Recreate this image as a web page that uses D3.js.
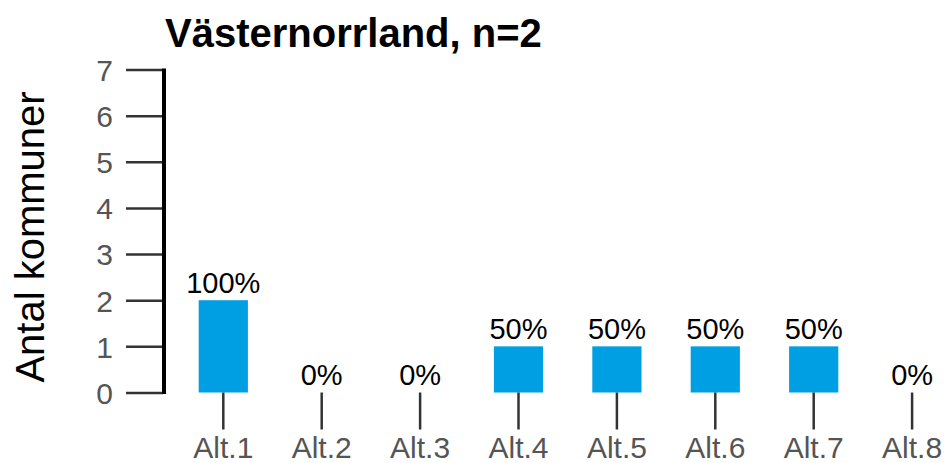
<!DOCTYPE html>
<html><head><meta charset="utf-8">
<script src="https://cdn.jsdelivr.net/npm/d3@7"></script>
<style>body{margin:0;background:#fff}svg{display:block}text{font-family:"Liberation Sans",Arial,sans-serif}</style>
</head><body>
<script>
const categories = ["Alt.1","Alt.2","Alt.3","Alt.4","Alt.5","Alt.6","Alt.7","Alt.8"];
const values = [2,0,0,1,1,1,1,0];
const percentLabels = ["100%","0%","0%","50%","50%","50%","50%","0%"];
const yTicks = [0,1,2,3,4,5,6,7];
const title = "Västernorrland, n=2";
const yTitle = "Antal kommuner";

const W = 947, H = 463;
const svg = d3.select("body").append("svg").attr("width", W).attr("height", H);

const x = d3.scaleBand().domain(categories).range([174.1, 961.3]).paddingInner(0.5).paddingOuter(0.25);
const y = d3.scaleLinear().domain([0, 7]).range([392.5, 69.5]);

// bars
svg.append("g").selectAll("rect").data(values).join("rect")
  .attr("x", (d, i) => x(categories[i]))
  .attr("width", x.bandwidth())
  .attr("y", d => y(d))
  .attr("height", d => y(0) - y(d))
  .attr("fill", "#009FE3");

// bar labels
svg.append("g").selectAll("text").data(values).join("text")
  .attr("x", (d, i) => x(categories[i]) + x.bandwidth() / 2)
  .attr("y", d => y(d) - 7.5)
  .attr("text-anchor", "middle")
  .attr("font-size", 29)
  .attr("fill", "#000")
  .text((d, i) => percentLabels[i]);

// y axis
const yAxis = d3.axisLeft(y).tickValues(yTicks).tickSize(37).tickPadding(13).tickFormat(d3.format("d"));
const gy = svg.append("g").attr("transform", "translate(163,0)").call(yAxis);
gy.select(".domain").remove();
gy.selectAll(".tick line").attr("stroke", "#333").attr("stroke-width", 2.5);
gy.selectAll(".tick text").attr("font-size", 30).attr("fill", "#555").attr("dy", "0.36em").attr("font-family", "Liberation Sans, Arial, sans-serif");
svg.append("line").attr("x1", 164).attr("x2", 164).attr("y1", y(7) - 1).attr("y2", y(0) + 1.5)
  .attr("stroke", "#000").attr("stroke-width", 4);

// x axis
const xAxis = d3.axisBottom(x).tickSize(37).tickPadding(7);
const gx = svg.append("g").attr("transform", `translate(0,${y(0)})`).call(xAxis);
gx.select(".domain").remove();
gx.selectAll(".tick line").attr("stroke", "#333").attr("stroke-width", 2.5);
gx.selectAll(".tick text").attr("font-size", 30).attr("fill", "#555").attr("dy", "0.71em").attr("font-family", "Liberation Sans, Arial, sans-serif");

// titles
svg.append("text").attr("x", 165).attr("y", 47).attr("font-size", 40).attr("font-weight", "bold").attr("fill", "#000").text(title);
svg.append("text").attr("transform", "translate(44,237) rotate(-90)").attr("text-anchor", "middle")
  .attr("font-size", 40).attr("fill", "#000").text(yTitle);
</script>
</body></html>
